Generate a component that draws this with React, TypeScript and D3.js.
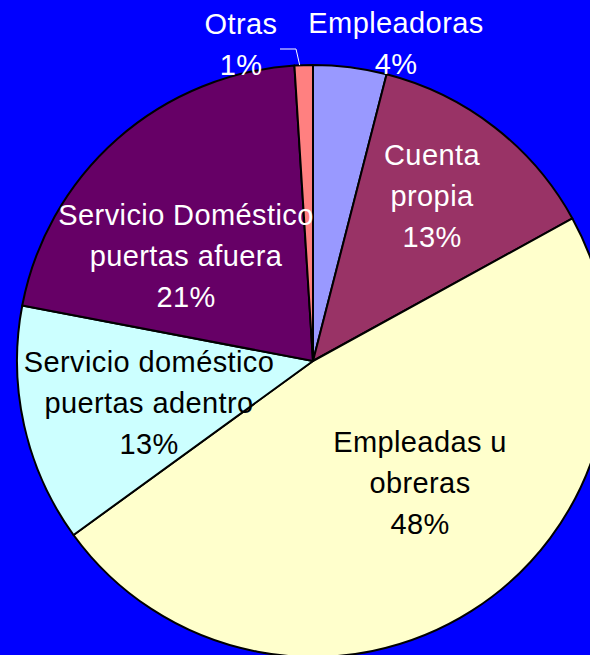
import React from "react";
import * as d3 from "d3";

const categories = [
  "Empleadoras",
  "Cuenta propia",
  "Empleadas u obreras",
  "Servicio doméstico puertas adentro",
  "Servicio Doméstico puertas afuera",
  "Otras",
];
const values = [4, 13, 48, 13, 21, 1];
const colors = ["#9999FF", "#993366", "#FFFFCC", "#CCFFFF", "#660066", "#FF8080"];
const labelLines = [
  ["Empleadoras", "4%"],
  ["Cuenta", "propia", "13%"],
  ["Empleadas u", "obreras", "48%"],
  ["Servicio doméstico", "puertas adentro", "13%"],
  ["Servicio Doméstico", "puertas afuera", "21%"],
  ["Otras", "1%"],
];
const labelColors = ["#FFFFFF", "#FFFFFF", "#000000", "#000000", "#FFFFFF", "#FFFFFF"];

const W = 590;
const H = 655;
const cx = 313;
const cy = 361;
const R = 296;
const LINE = 41;
// label anchor offsets (center x, first baseline) relative to pie center
const labelOffsets: [number, number][] = [
  [83, -328],
  [119, -196],
  [107, 91],
  [-164, 11],
  [-127, -136],
  [-72, -327],
];

export default function App() {
  const pie = d3
    .pie<number>()
    .sort(null)
    .value((d) => d)
    .startAngle(0)
    .endAngle(2 * Math.PI);
  const arcs = pie(values);
  const arc = d3.arc<d3.PieArcDatum<number>>().innerRadius(0).outerRadius(R);

  const otras = arcs[5];
  const mid = (otras.startAngle + otras.endAngle) / 2;
  const ex = Math.sin(mid) * R;
  const ey = -Math.cos(mid) * R;

  return (
    <svg
      width={W}
      height={H}
      style={{ position: "absolute", left: 0, top: 0, display: "block" }}
      fontFamily="'Liberation Sans', Arial, sans-serif"
    >
      <rect x={0} y={0} width={W} height={H} fill="#0000FF" />
      <g transform={`translate(${cx},${cy})`}>
        {arcs.map((a, i) => (
          <path key={i} d={arc(a) || ""} fill={colors[i]} stroke="#000" strokeWidth={2} strokeLinejoin="round" />
        ))}
        <polyline
          points={`${-33},${-312} ${-17},${-312} ${ex - 4},${ey}`}
          fill="none"
          stroke="#FFFFFF"
          strokeWidth={1}
        />
        {labelLines.map((lines, i) => (
          <text
            key={i}
            x={labelOffsets[i][0]}
            y={labelOffsets[i][1]}
            textAnchor="middle"
            fontSize={29}
            letterSpacing={0.4}
            fill={labelColors[i]}
          >
            {lines.map((l, j) => (
              <tspan key={j} x={labelOffsets[i][0]} dy={j === 0 ? 0 : LINE}>
                {l}
              </tspan>
            ))}
          </text>
        ))}
      </g>
    </svg>
  );
}
